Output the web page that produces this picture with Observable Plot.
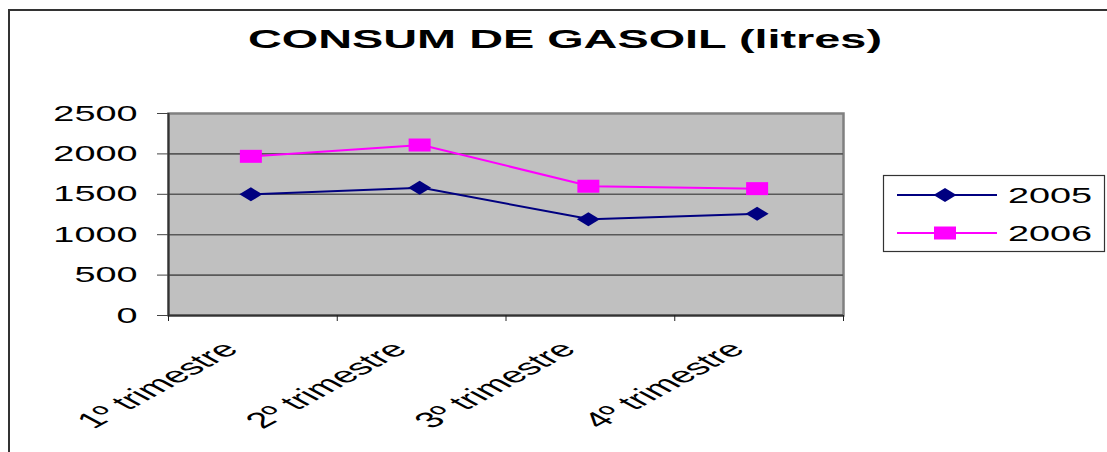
<!DOCTYPE html>
<html>
<head>
<meta charset="utf-8">
<script src="https://cdn.jsdelivr.net/npm/d3@7"></script>
<script src="https://cdn.jsdelivr.net/npm/@observablehq/plot@0.6"></script>
<style>
  html, body { margin: 0; padding: 0; background: #fff; overflow: hidden; }
  #wrap { position: relative; width: 1107px; height: 452px; font-family: Arial, "Liberation Sans", sans-serif; }
  #border { position: absolute; left: 8px; top: 9px; width: 1200px; height: 600px; border-left: 2px solid #333; border-top: 2px solid #333; box-sizing: border-box; }
  #chart { position: absolute; left: 0; top: 0; }
  #title, #legend { position: absolute; left: 0; top: 0; }
</style>
</head>
<body>
<div id="wrap">
  <div id="border"></div>
  <div id="chart"></div>
  <svg id="title" width="1107" height="80">
    <text x="248" y="48" textLength="634" lengthAdjust="spacingAndGlyphs" font-family="Arial, 'Liberation Sans', sans-serif" font-weight="bold" font-size="25" fill="#000">CONSUM DE GASOIL (litres)</text>
  </svg>
  <svg id="legend" width="1107" height="452"></svg>
</div>
<script>
const titleText = "CONSUM DE GASOIL (litres)";
const categories = ["1º trimestre", "2º trimestre", "3º trimestre", "4º trimestre"];
const seriesNames = ["2005", "2006"];
const values2005 = [1500, 1580, 1190, 1260];
const values2006 = [1970, 2110, 1600, 1570];
const yTicks = [0, 500, 1000, 1500, 2000, 2500];
const seriesColors = ["#000080", "#FF00FF"];

const TEXT_STRETCH = 1.72;   // horizontal stretch of the reference's lettering
const LABEL_STRETCH = 1.85;  // same, for the rotated category labels

const rows2005 = categories.map((c, i) => ({cat: c, pos: i + 0.5, value: values2005[i], series: seriesNames[0]}));
const rows2006 = categories.map((c, i) => ({cat: c, pos: i + 0.5, value: values2006[i], series: seriesNames[1]}));

const wideDiamond = {draw(ctx) { const w = 11.5, h = 7; ctx.moveTo(-w, 0); ctx.lineTo(0, -h); ctx.lineTo(w, 0); ctx.lineTo(0, h); ctx.closePath(); }};
const wideSquare = {draw(ctx) { const w = 11, h = 6.5; ctx.moveTo(-w, -h); ctx.lineTo(w, -h); ctx.lineTo(w, h); ctx.lineTo(-w, h); ctx.closePath(); }};

const chart = Plot.plot({
  width: 1107,
  height: 452,
  marginLeft: 168,
  marginRight: 264,
  marginTop: 113,
  marginBottom: 137,
  style: {fontFamily: "Arial, 'Liberation Sans', sans-serif", fontSize: "22px", color: "#000", background: "transparent", overflow: "visible"},
  x: {type: "linear", domain: [0, categories.length]},
  y: {domain: [0, 2500]},
  marks: [
    Plot.frame({fill: "#C0C0C0", stroke: "#808080", strokeWidth: 2.5}),
    Plot.ruleY(yTicks.slice(1, -1), {stroke: "#595959", strokeWidth: 1.6}),
    Plot.ruleX([0], {stroke: "#333", strokeWidth: 2}),
    Plot.ruleY([0], {stroke: "#333", strokeWidth: 2}),
    Plot.axisY({ticks: yTicks, tickSize: 11, tickPadding: 20, tickFormat: d3.format("d"), label: null, stroke: "#444", fontSize: 22}),
    Plot.axisX({ticks: d3.range(categories.length + 1), tickSize: 6, tickFormat: () => "", label: null, stroke: "#222"}),
    Plot.text(categories, {x: (d, i) => i + 0.5, text: d => d, frameAnchor: "bottom", rotate: -45, textAnchor: "end", lineAnchor: "middle", dx: -22, dy: 30, fontSize: 22, fill: "#000"}),
    Plot.line(rows2005, {x: "pos", y: "value", stroke: seriesColors[0], strokeWidth: 2}),
    Plot.line(rows2006, {x: "pos", y: "value", stroke: seriesColors[1], strokeWidth: 2}),
    Plot.dot(rows2005, {x: "pos", y: "value", symbol: wideDiamond, fill: seriesColors[0], stroke: "none", dx: -2}),
    Plot.dot(rows2006, {x: "pos", y: "value", symbol: wideSquare, fill: seriesColors[1], stroke: "none", dx: -2})
  ]
});
document.getElementById("chart").appendChild(chart);

// stretch lettering horizontally about each label's own anchor, like the reference
chart.querySelectorAll("text").forEach(t => {
  const tr = t.getAttribute("transform");
  if (!tr) return;
  t.setAttribute("transform", /rotate/.test(tr)
    ? tr.replace(/rotate/, `scale(${LABEL_STRETCH},1) rotate`)
    : `${tr} scale(${TEXT_STRETCH},1)`);
});

// legend
const lg = d3.select("#legend");
lg.append("rect").attr("x", 883.5).attr("y", 175.5).attr("width", 221).attr("height", 76)
  .attr("fill", "#fff").attr("stroke", "#333").attr("stroke-width", 1.2);
seriesNames.forEach((name, k) => {
  const cy = 195 + k * 38;
  lg.append("line").attr("x1", 897).attr("x2", 997).attr("y1", cy).attr("y2", cy)
    .attr("stroke", seriesColors[k]).attr("stroke-width", 2);
  const sym = k === 0 ? wideDiamond : wideSquare;
  const p = d3.path(); sym.draw(p);
  lg.append("path").attr("d", p.toString()).attr("transform", `translate(945,${cy})`).attr("fill", seriesColors[k]);
  lg.append("text").attr("transform", `translate(1008,${cy}) scale(${TEXT_STRETCH},1)`).attr("dy", "0.36em")
    .attr("font-family", "Arial, 'Liberation Sans', sans-serif").attr("font-size", 22).attr("fill", "#000").text(name);
});
</script>
</body>
</html>
